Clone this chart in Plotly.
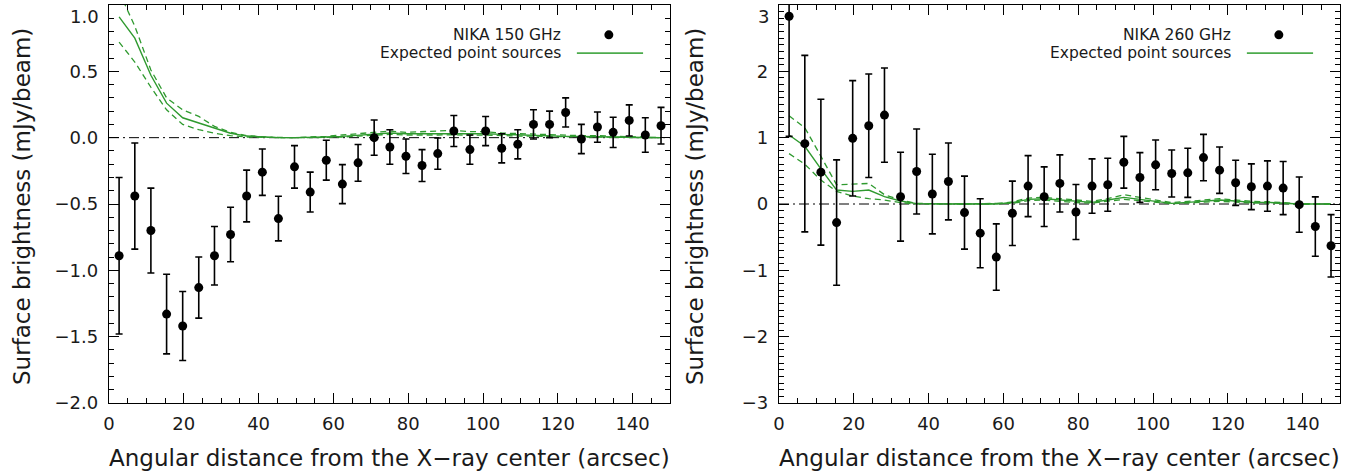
import plotly.graph_objects as go

# ---------------- data ----------------
radius = [2.7, 6.9, 11.2, 15.4, 19.7, 24.0, 28.2, 32.5, 36.8, 41.0, 45.3, 49.6,
          53.8, 58.1, 62.4, 66.6, 70.9, 75.1, 79.4, 83.7, 87.9, 92.2, 96.5, 100.7,
          105.0, 109.3, 113.5, 117.8, 122.1, 126.3, 130.6, 134.8, 139.1, 143.4, 147.6]

flux150 = [-0.89, -0.44, -0.70, -1.33, -1.42, -1.13, -0.89, -0.73, -0.44, -0.26,
           -0.61, -0.22, -0.41, -0.17, -0.35, -0.19, 0.00, -0.07,
           -0.14, -0.21, -0.12, 0.05, -0.09, 0.05, -0.08, -0.05, 0.10, 0.10, 0.19,
           -0.01, 0.08, 0.04, 0.13, 0.02, 0.09]
err150 = [0.59, 0.40, 0.32, 0.30, 0.26, 0.23, 0.22, 0.205, 0.195, 0.175,
          0.168, 0.16, 0.15, 0.15, 0.147, 0.138, 0.133, 0.13,
          0.13, 0.12, 0.118, 0.117, 0.11, 0.11, 0.11, 0.11, 0.11, 0.10, 0.11,
          0.11, 0.114, 0.114, 0.117, 0.13, 0.138]

ps150 = [0.91, 0.75, 0.47, 0.26, 0.15, 0.11, 0.07, 0.033, 0.012, 0.004, 0.0, 0.0,
         0.0, 0.005, 0.01, 0.02, 0.03, 0.035, 0.03, 0.03, 0.03, 0.035, 0.03, 0.03,
         0.025, 0.02, 0.02, 0.015, 0.01, 0.01, 0.01, 0.005, 0.003, 0.002, 0.0]
ps150_hi = [1.10, 0.84, 0.51, 0.30, 0.21, 0.16, 0.085, 0.04, 0.015, 0.005, 0.0, 0.0,
            0.003, 0.01, 0.02, 0.03, 0.045, 0.05, 0.04, 0.045, 0.05, 0.055, 0.045, 0.045,
            0.035, 0.03, 0.03, 0.025, 0.02, 0.015, 0.015, 0.01, 0.005, 0.003, 0.0]
ps150_lo = [0.72, 0.57, 0.38, 0.21, 0.10, 0.06, 0.033, 0.015, 0.005, 0.002, 0.0, 0.0,
            0.0, 0.002, 0.005, 0.012, 0.02, 0.025, 0.02, 0.018, 0.02, 0.022, 0.018, 0.02,
            0.015, 0.012, 0.012, 0.008, 0.005, 0.005, 0.005, 0.002, 0.001, 0.0, 0.0]

flux260 = [2.83, 0.91, 0.48, -0.28, 0.99, 1.18, 1.34, 0.11, 0.49, 0.15,
           0.34, -0.13, -0.44, -0.80, -0.14, 0.27, 0.11, 0.31,
           -0.12, 0.27, 0.29, 0.63, 0.40, 0.59, 0.46, 0.47, 0.70, 0.51, 0.32,
           0.26, 0.27, 0.24, -0.01, -0.34, -0.63]
err260 = [1.81, 1.33, 1.10, 0.945, 0.87, 0.78, 0.71, 0.67, 0.64, 0.60,
          0.58, 0.55, 0.52, 0.50, 0.485, 0.46, 0.45, 0.43,
          0.415, 0.41, 0.40, 0.39, 0.375, 0.375, 0.355, 0.37, 0.35, 0.35, 0.34,
          0.345, 0.38, 0.40, 0.417, 0.447, 0.47]

ps260 = [1.04, 0.87, 0.53, 0.21, 0.19, 0.21, 0.11, 0.045, 0.005, 0.0, 0.0, 0.0,
         0.0, 0.0, 0.02, 0.07, 0.08, 0.06, 0.035, 0.025, 0.06, 0.10, 0.07, 0.04,
         0.01, 0.025, 0.045, 0.06, 0.045, 0.025, 0.025, 0.01, 0.0, 0.0, 0.0]
ps260_hi = [1.33, 1.15, 0.72, 0.29, 0.30, 0.31, 0.14, 0.06, 0.01, 0.0, 0.0, 0.0,
            0.0, 0.005, 0.03, 0.09, 0.10, 0.08, 0.05, 0.04, 0.08, 0.14, 0.10, 0.06,
            0.02, 0.04, 0.06, 0.08, 0.06, 0.04, 0.035, 0.015, 0.005, 0.0, 0.0]
ps260_lo = [0.76, 0.60, 0.36, 0.19, 0.12, 0.08, 0.06, 0.02, 0.0, 0.0, 0.0, 0.0,
            0.0, 0.0, 0.01, 0.05, 0.06, 0.04, 0.02, 0.015, 0.04, 0.07, 0.05, 0.025,
            0.005, 0.015, 0.03, 0.04, 0.03, 0.015, 0.015, 0.005, 0.0, 0.0, 0.0]

ticks150 = [-2.0, -1.5, -1.0, -0.5, 0.0, 0.5, 1.0]
ticks260 = [-3, -2, -1, 0, 1, 2, 3]
x_ticks = [0, 20, 40, 60, 80, 100, 120, 140]

legend_data = ["NIKA 150 GHz", "NIKA 260 GHz"]
legend_model = "Expected point sources"
x_title = "Angular distance from the X\u2212ray center (arcsec)"
y_title = "Surface brightness (mJy/beam)"

# ---------------- style ----------------
W, H = 1371, 474
TOP, BOT = 5, 403
PH = BOT - TOP
FONT = "DejaVu Sans"
GREEN = "#2f9a2f"
TXT = "#1a1a1a"


def fmt(v, dec):
    s = f"{abs(v):.{dec}f}"
    return ("\u2212" + s) if v < 0 else s


fig = go.Figure()

panels = [
    dict(x="x", y="y", flux=flux150, err=err150, ps=ps150, hi=ps150_hi, lo=ps150_lo,
         label=legend_data[0], ticks=ticks150, dec=1),
    dict(x="x2", y="y2", flux=flux260, err=err260, ps=ps260, hi=ps260_hi, lo=ps260_lo,
         label=legend_data[1], ticks=ticks260, dec=0),
]

for p in panels:
    for band in (p["hi"], p["lo"]):
        fig.add_trace(go.Scatter(x=radius, y=band, mode="lines", xaxis=p["x"], yaxis=p["y"],
                                 line=dict(color=GREEN, width=1.3, dash="6px,4px"),
                                 showlegend=False, hoverinfo="skip"))
    fig.add_trace(go.Scatter(x=radius, y=p["ps"], mode="lines", xaxis=p["x"], yaxis=p["y"],
                             line=dict(color=GREEN, width=1.4), showlegend=False))
    fig.add_trace(go.Scatter(x=radius, y=p["flux"], mode="markers", xaxis=p["x"], yaxis=p["y"],
                             marker=dict(color="black", size=9),
                             error_y=dict(type="data", array=p["err"], color="black",
                                          thickness=1.6, width=3.5),
                             showlegend=False))

axis_common = dict(showline=True, linecolor="black", linewidth=1.4, mirror="allticks",
                   ticks="inside", ticklen=10, tickwidth=1, tickcolor="black",
                   showgrid=False, zeroline=False, automargin=False,
                   ticklabeloverflow="allow",
                   tickfont=dict(family=FONT, size=18, color=TXT))


def ytext(p):
    # the top label is drawn separately (shifted below the frame, as in the original)
    return [fmt(v, p["dec"]) if v != p["ticks"][-1] else "" for v in p["ticks"]]


fig.update_layout(
    width=W, height=H,
    margin=dict(l=0, r=0, t=TOP, b=H - BOT),
    paper_bgcolor="white", plot_bgcolor="white",
    showlegend=False,
    xaxis=dict(domain=[109 / W, 670 / W], range=[0, 150], tickvals=x_ticks,
               minor=dict(dtick=5, ticks="inside", ticklen=5, tickcolor="black"),
               ticklabelstandoff=4, anchor="y", **axis_common),
    yaxis=dict(domain=[0, 1], range=[-2, 1], tickvals=ticks150, ticktext=ytext(panels[0]),
               minor=dict(dtick=0.1, ticks="inside", ticklen=5, tickcolor="black"),
               ticklabelstandoff=6, anchor="x", **axis_common),
    xaxis2=dict(domain=[779 / W, 1340 / W], range=[0, 150], tickvals=x_ticks,
                minor=dict(dtick=5, ticks="inside", ticklen=5, tickcolor="black"),
                ticklabelstandoff=4, anchor="y2", **axis_common),
    yaxis2=dict(domain=[0, 1], range=[-3, 3], tickvals=ticks260, ticktext=ytext(panels[1]),
                minor=dict(dtick=0.1, ticks="inside", ticklen=5, tickcolor="black"),
                ticklabelstandoff=6, anchor="x2", **axis_common),
)

shapes = []
annotations = []
ytitle_x = [22 / W, 695 / W]
for i, p in enumerate(panels):
    xd = p["x"] + " domain"
    yd = p["y"] + " domain"
    shapes.append(dict(type="line", xref=xd, x0=0, x1=1, yref=p["y"], y0=0, y1=0,
                       line=dict(color="black", width=1, dash="10px,4px,2px,4px"),
                       layer="below"))
    shapes.append(dict(type="circle", xref=xd, yref=yd, xsizemode="pixel", ysizemode="pixel",
                       xanchor=0.891, yanchor=0.925, x0=-4.5, x1=4.5, y0=-4.5, y1=4.5,
                       fillcolor="black", line=dict(color="black", width=0)))
    shapes.append(dict(type="line", xref=xd, yref=yd, x0=0.834, x1=0.952, y0=0.879, y1=0.879,
                       line=dict(color="#4cab4c", width=1.6)))
    annotations.append(dict(text=p["label"], xref=xd, yref=yd, x=0.809, y=0.925,
                            xanchor="right", yanchor="middle", showarrow=False,
                            font=dict(family=FONT, size=15.5, color=TXT)))
    annotations.append(dict(text=legend_model, xref=xd, yref=yd, x=0.809, y=0.879,
                            xanchor="right", yanchor="middle", showarrow=False,
                            font=dict(family=FONT, size=15.5, color=TXT)))
    annotations.append(dict(text=x_title, xref=xd, yref="paper", x=0.5,
                            y=(BOT - 458) / PH,
                            xanchor="center", yanchor="middle", showarrow=False,
                            font=dict(family=FONT, size=23, color=TXT)))
    annotations.append(dict(text=y_title, xref="paper", yref="paper", x=ytitle_x[i],
                            y=(BOT - 207) / PH, xanchor="center", yanchor="middle",
                            textangle=-90, showarrow=False,
                            font=dict(family=FONT, size=23, color=TXT)))
    # top y tick label, placed just below the frame
    annotations.append(dict(text=fmt(p["ticks"][-1], p["dec"]), xref=xd, yref=yd,
                            x=0, y=1, xanchor="right", yanchor="top",
                            xshift=-8, yshift=1, showarrow=False,
                            font=dict(family=FONT, size=18, color=TXT)))

fig.update_layout(shapes=shapes, annotations=annotations)

fig.write_html("out.html", config={"displayModeBar": False},
               post_script="document.body.style.margin='0';document.body.style.padding='0';")
